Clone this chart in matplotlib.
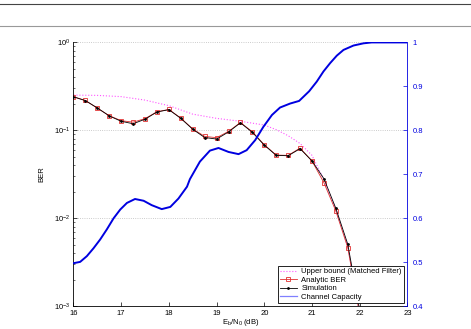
import numpy as np
import matplotlib
matplotlib.use("Agg")
import matplotlib.pyplot as plt
from matplotlib.lines import Line2D
from matplotlib.ticker import LogLocator, NullFormatter

plt.rcParams["font.family"] = ["Liberation Sans", "DejaVu Sans"]
plt.rcParams["mathtext.fontset"] = "custom"
plt.rcParams["mathtext.rm"] = "Liberation Sans"
plt.rcParams["mathtext.it"] = "Liberation Sans:italic"

# BER curves, 0.25 dB steps
ebn0 = [16.0, 16.25, 16.5, 16.75, 17.0, 17.25, 17.5, 17.75, 18.0, 18.25,
        18.5, 18.75, 19.0, 19.25, 19.5, 19.75, 20.0, 20.25, 20.5, 20.75,
        21.0, 21.25, 21.5, 21.75, 22.0]
ber_analytic = [0.241, 0.219, 0.179, 0.147, 0.129, 0.124, 0.136, 0.163, 0.173, 0.138,
                0.104, 0.0855, 0.0826, 0.0974, 0.123, 0.0964, 0.0687, 0.0524, 0.052, 0.0629,
                0.0448, 0.0254, 0.0121, 0.00463, 0.0008]
ber_sim = [0.241, 0.218, 0.180, 0.146, 0.127, 0.119, 0.134, 0.162, 0.172, 0.137,
           0.103, 0.0830, 0.0797, 0.0960, 0.122, 0.0950, 0.0680, 0.0520, 0.0515, 0.0620,
           0.0450, 0.0282, 0.0130, 0.00507, 0.0009]

# upper bound (matched filter)
ub_x = [16.0, 16.5, 17.0, 17.5, 18.0, 18.5, 19.0, 19.5, 20.0, 20.25,
        20.5, 20.75, 21.0, 21.25, 21.5, 21.75, 22.0]
ub_ber = [0.252, 0.250, 0.242, 0.221, 0.191, 0.153, 0.137, 0.127, 0.115, 0.102,
          0.087, 0.071, 0.052, 0.0275, 0.0126, 0.0048, 0.0008]

# channel capacity (right axis)
cap_x = [16.0, 16.14, 16.28, 16.42, 16.56, 16.70, 16.84, 16.98, 17.12, 17.29,
         17.47, 17.64, 17.85, 18.03, 18.20, 18.38, 18.44, 18.65, 18.86, 19.04,
         19.25, 19.46, 19.63, 19.81, 19.98, 20.16, 20.33, 20.54, 20.73, 20.94,
         21.10, 21.24, 21.38, 21.52, 21.66, 21.87, 22.08, 22.25, 23.0]
capacity = [0.498, 0.501, 0.514, 0.532, 0.552, 0.575, 0.600, 0.620, 0.635, 0.644,
            0.640, 0.630, 0.621, 0.626, 0.645, 0.672, 0.689, 0.729, 0.754, 0.760,
            0.751, 0.746, 0.755, 0.778, 0.808, 0.835, 0.852, 0.861, 0.867, 0.889,
            0.911, 0.934, 0.953, 0.970, 0.983, 0.993, 0.998, 1.0, 1.0]

blue = "#0000e0"
fs = 5.5

fig = plt.figure(figsize=(4.71, 3.29), dpi=100)
fig.add_artist(Line2D([0, 1], [1 - 4.3 / 329] * 2, color="#444444", lw=0.8))
fig.add_artist(Line2D([0, 1], [1 - 26 / 329] * 2, color="#999999", lw=0.8))

ax = fig.add_axes([0.156, 0.069, 0.709, 0.802])
ax2 = ax.twinx()

l_ub, = ax.plot(ub_x, ub_ber, ":", color="#ff55ff", lw=0.8,
                label="Upper bound (Matched Filter)")
l_an, = ax.plot(ebn0, ber_analytic, "-s", color="#e03030", lw=0.6, ms=3.2,
                mfc="none", mew=0.6, label="Analytic BER")
l_sim, = ax.plot(ebn0, ber_sim, marker=".", color="black", lw=0.6, ms=2,
                 label="Simulation", linestyle="-")
ax2.plot(cap_x, capacity, "-", color=blue, lw=1.4)
l_cap = Line2D([], [], color="#8080ff", lw=0.9, label="Channel Capacity")

ax.set_yscale("log")
ax.set_ylim(1e-3, 1)
ax.set_xlim(16, 23)
ax.set_xticks(range(16, 24))
ax.yaxis.set_minor_locator(LogLocator(base=10, subs=np.arange(2, 10)))
ax.yaxis.set_minor_formatter(NullFormatter())
ax.grid(True, axis="y", which="major", linestyle=":", color="#bbbbbb", lw=0.6)
ax.tick_params(direction="in", labelsize=fs, length=3, width=0.5, right=False, pad=2.5)
ax.tick_params(which="minor", direction="in", length=1.5, width=0.4)
for s in ["top", "right"]:
    ax.spines[s].set_visible(False)
for s in ["left", "bottom"]:
    ax.spines[s].set_linewidth(0.6)
ax.set_ylabel("BER", fontsize=fs, labelpad=6)
ax.set_xlabel(r"$\mathrm{E_b/N_0}$ (dB)", fontsize=fs, labelpad=0.5)

ax2.set_ylim(0.4, 1.0)
ax2.set_yticks([0.4, 0.5, 0.6, 0.7, 0.8, 0.9, 1.0])
ax2.set_yticklabels(["0.4", "0.5", "0.6", "0.7", "0.8", "0.9", "1"])
ax2.tick_params(direction="in", labelsize=fs, length=3, width=0.5,
                colors=blue, labelcolor=blue)
for s in ["top", "left", "bottom"]:
    ax2.spines[s].set_visible(False)
ax2.spines["right"].set_color(blue)
ax2.spines["right"].set_linewidth(0.6)

leg = ax2.legend([l_ub, l_an, l_sim, l_cap],
                 [h.get_label() for h in [l_ub, l_an, l_sim, l_cap]],
                 loc="lower right", bbox_to_anchor=(0.99, 0.012), borderaxespad=0,
                 fontsize=fs, fancybox=False, framealpha=1, edgecolor="black",
                 handlelength=2.2, handletextpad=0.6, labelspacing=0.15,
                 borderpad=0.3)
leg.get_frame().set_linewidth(0.6)

fig.savefig("out.png", dpi=100)
